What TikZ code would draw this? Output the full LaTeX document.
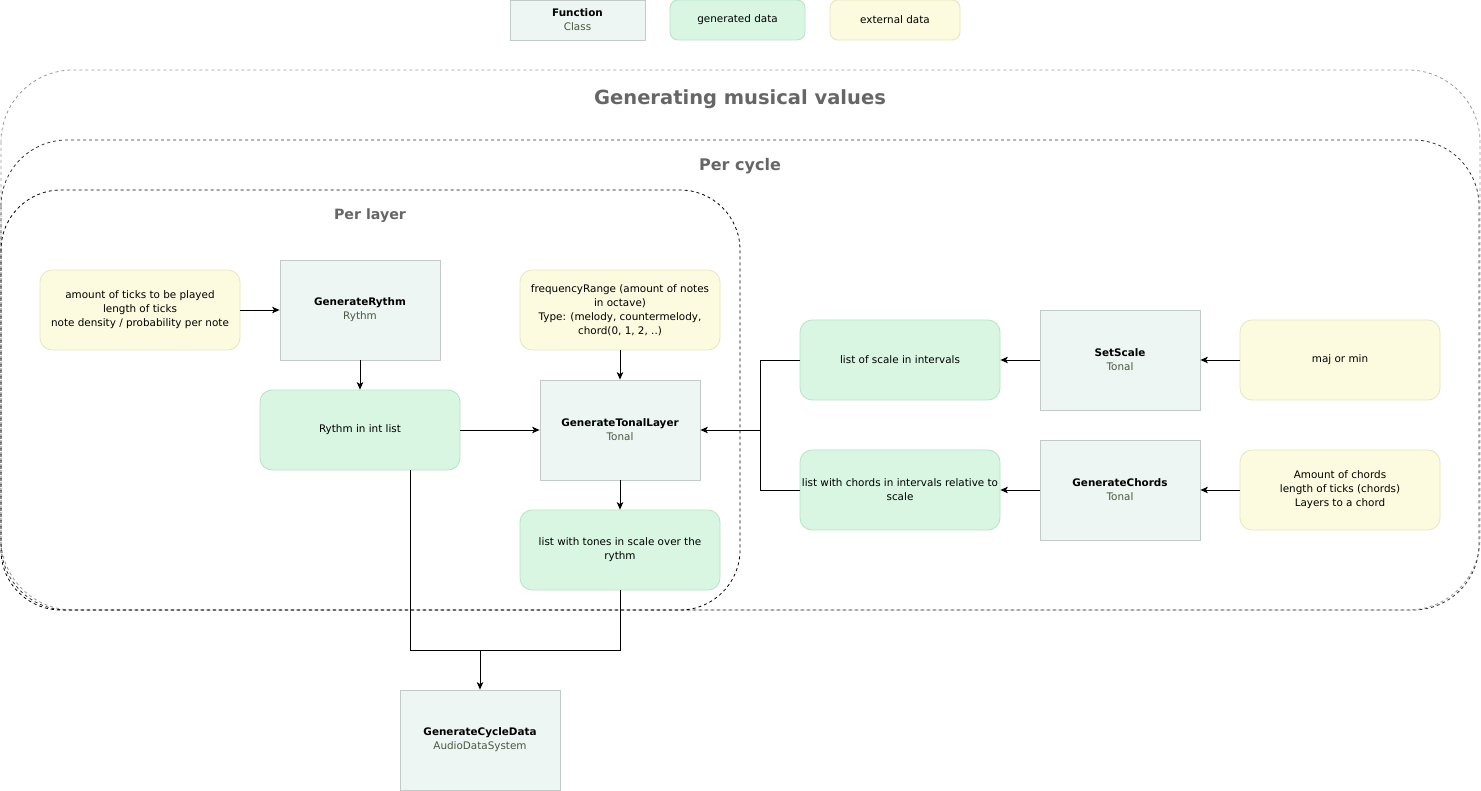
\documentclass[tikz,border=0pt]{standalone}
\usepackage{fontspec}
\setmainfont{DejaVu Sans}
\usetikzlibrary{arrows.meta}
\definecolor{funcfill}{HTML}{EDF6F2}
\definecolor{funcdraw}{HTML}{C4CAC7}
\definecolor{genfill}{HTML}{D8F6E2}
\definecolor{gendraw}{HTML}{B6E3C6}
\definecolor{extfill}{HTML}{FCFBDF}
\definecolor{extdraw}{HTML}{E6E5BE}
\definecolor{subtxt}{HTML}{4A5740}
\definecolor{titletxt}{HTML}{666666}
\tikzset{
  base/.style={inner sep=0pt, align=center, font=\fontsize{10.4}{14}\selectfont, line width=0.8pt},
  func/.style={base, rectangle, draw=funcdraw, fill=funcfill, minimum width=160pt, minimum height=100pt},
  gen/.style={base, rectangle, rounded corners=12pt, draw=gendraw, fill=genfill, minimum width=200pt, minimum height=80pt},
  ext/.style={base, rectangle, rounded corners=12pt, draw=extdraw, fill=extfill, minimum width=200pt, minimum height=80pt},
  legfunc/.style={func, minimum width=135pt, minimum height=40pt},
  leggen/.style={gen, rounded corners=8pt, minimum width=135pt, minimum height=40pt},
  legext/.style={ext, rounded corners=8pt, minimum width=130pt, minimum height=40pt},
  conn/.style={line width=0.9pt, -{Stealth[length=7.5pt,width=6.5pt,inset=2pt]}},
  line/.style={line width=0.9pt},
  grp/.style={line width=0.8pt, dash pattern=on 3pt off 3pt},
  grptitle/.style={text=titletxt, inner sep=0pt}
}
\newcommand{\fn}[2]{\textbf{#1}\\\textcolor{subtxt}{#2}}
\begin{document}
\begin{tikzpicture}[x=1pt,y=-1pt]
\useasboundingbox (0,0) rectangle (1481,791);
% legend
\node[legfunc] (lf) at (577.5,20) {\fn{Function}{Class}};
\node[leggen] (lg) at (737.5,20) {generated data};
\node[legext] (le) at (895,20) {external data};
% groups
\draw[grp, draw=black!40, rounded corners=72pt] (1,70) rectangle (1480,610);
\draw[grp, draw=black!80, rounded corners=66pt] (1,140) rectangle (1479,610);
\draw[grp, draw=black, rounded corners=60pt] (1,190) rectangle (740,610);
\node[grptitle, font=\fontsize{19.5}{24}\bfseries\selectfont] (t1) at (740,99) {Generating musical values};
\node[grptitle, font=\fontsize{16}{20}\bfseries\selectfont] (t2) at (740,166) {Per cycle};
\node[grptitle, font=\fontsize{14.2}{18}\bfseries\selectfont] (t3) at (370,216) {Per layer};
% nodes
\node[ext] (ticks) at (140,310) {amount of ticks to be played\\length of ticks\\note density / probability per note};
\node[func] (rythm) at (360,310) {\fn{GenerateRythm}{Rythm}};
\node[gen] (rlist) at (360,430) {Rythm in int list};
\node[ext] (freq) at (620,310) {frequencyRange (amount of notes\\in octave)\\Type: (melody, countermelody,\\chord(0, 1, 2, ..)};
\node[func] (tonal) at (620,430) {\fn{GenerateTonalLayer}{Tonal}};
\node[gen] (tones) at (620,550) {list with tones in scale over the\\rythm};
\node[gen] (scale) at (900,360) {list of scale in intervals};
\node[func] (setscale) at (1120,360) {\fn{SetScale}{Tonal}};
\node[ext] (majmin) at (1340,360) {maj or min};
\node[gen] (chords) at (900,490) {list with chords in intervals relative to\\scale};
\node[func] (genchords) at (1120,490) {\fn{GenerateChords}{Tonal}};
\node[ext] (amount) at (1340,490) {Amount of chords\\length of ticks (chords)\\Layers to a chord};
\node[func] (cycle) at (480,740) {\fn{GenerateCycleData}{AudioDataSystem}};
% connectors
\coordinate (jr) at (760,430);
\coordinate (jb) at (480,650);
\draw[conn] (ticks) -- (rythm);
\draw[conn] (rythm) -- (rlist);
\draw[conn] (rlist) -- (tonal);
\draw[conn] (freq) -- (tonal);
\draw[conn] (tonal) -- (tones);
\draw[conn] (majmin) -- (setscale);
\draw[conn] (setscale) -- (scale);
\draw[conn] (amount) -- (genchords);
\draw[conn] (genchords) -- (chords);
\draw[line] (scale.west) -| (jr);
\draw[line] (chords.west) -| (jr);
\draw[conn] (jr) -- (tonal.east);
\draw[line] (rlist.south -| 410,0) |- (jb);
\draw[line] (tones.south) |- (jb);
\draw[conn] (jb) -- (cycle.north);
\end{tikzpicture}
\end{document}
